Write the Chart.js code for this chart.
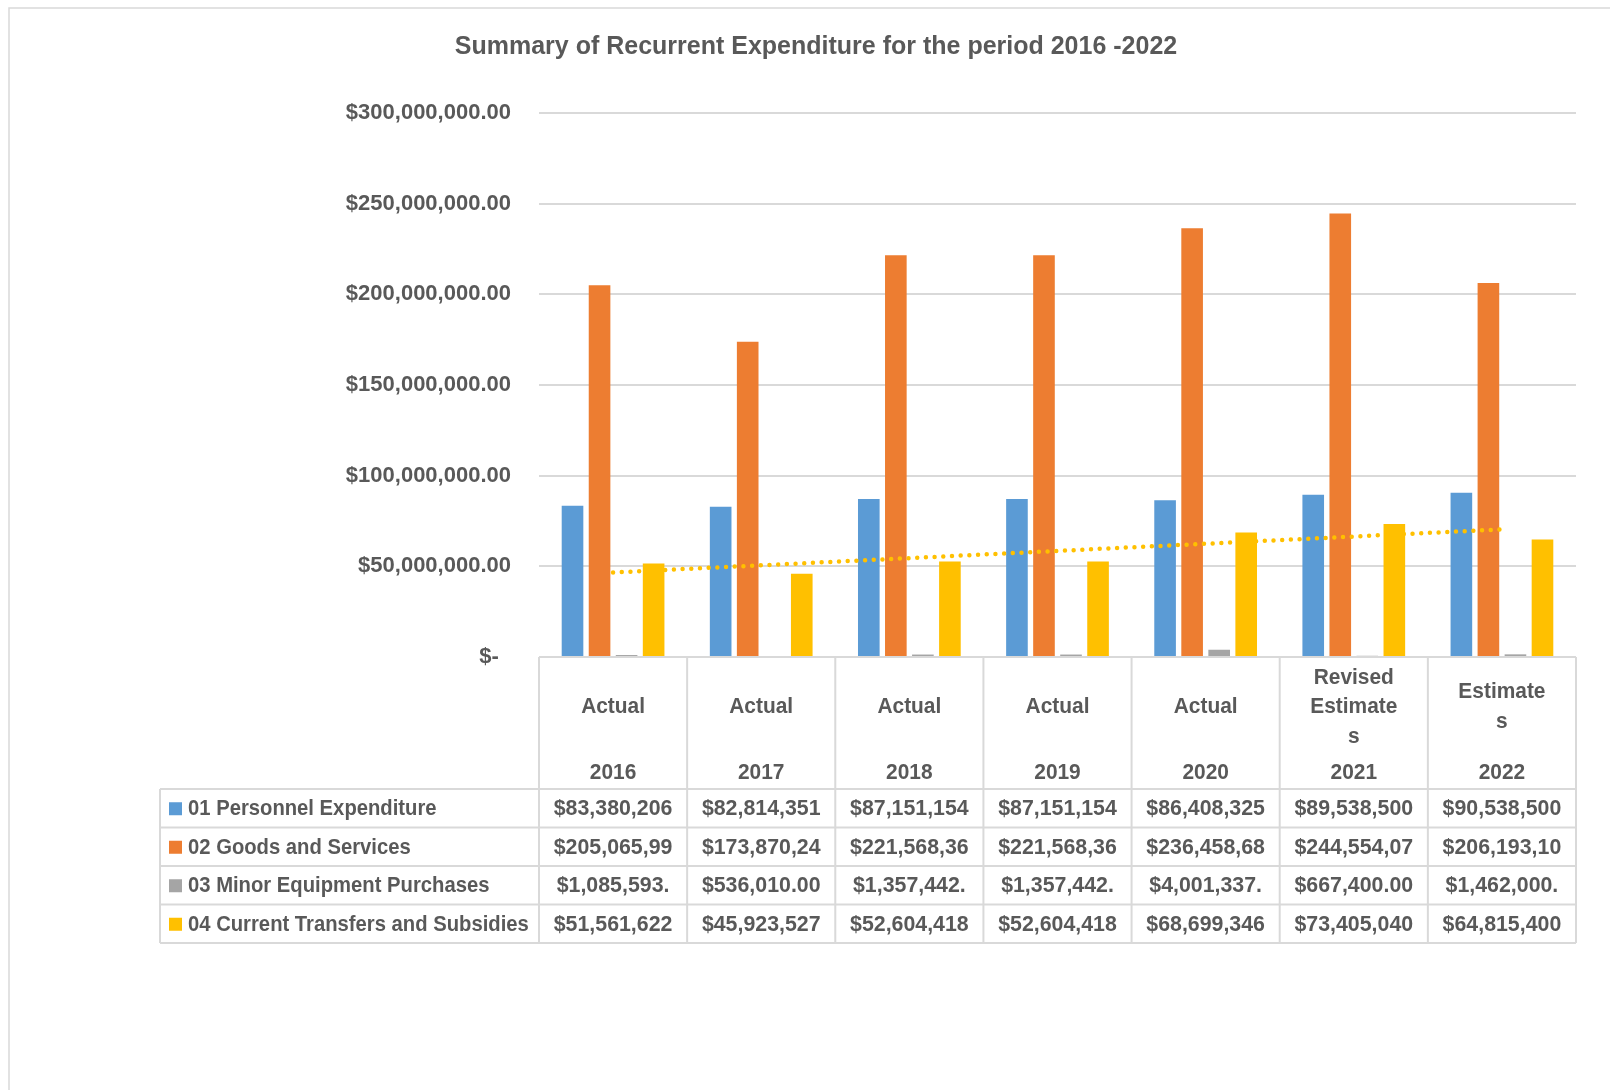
<!DOCTYPE html>
<html>
<head>
<meta charset="utf-8">
<script src="https://cdn.jsdelivr.net/npm/chart.js@4.4.1/dist/chart.umd.min.js"></script>
<style>
  html, body { margin: 0; padding: 0; background: #fff; }
</style>
</head>
<body>
<canvas id="chart" width="1610" height="1090"></canvas>
<script>
const chartTitle = "Summary of Recurrent Expenditure for the period 2016 -2022";
const years = ["2016", "2017", "2018", "2019", "2020", "2021", "2022"];
const stages = [["Actual"], ["Actual"], ["Actual"], ["Actual"], ["Actual"], ["Revised", "Estimate", "s"], ["Estimate", "s"]];
const seriesNames = ["01 Personnel Expenditure", "02 Goods and Services", "03 Minor Equipment Purchases", "04 Current Transfers and Subsidies"];

const personnel = [83380206, 82814351, 87151154, 87151154, 86408325, 89538500, 90538500];
const goodsServices = [205065990, 173870240, 221568360, 221568360, 236458680, 244554070, 206193100];
const minorEquipment = [1085593, 536010, 1357442, 1357442, 4001337, 667400, 1462000];
const transfers = [51561622, 45923527, 52604418, 52604418, 68699346, 73405040, 64815400];
// linear trendline on transfers, ends
const transfersTrend = [46600000, null, null, null, null, null, 70400000];

const yMin = 0, yMax = 300000000, yStep = 50000000;

const FONT = "'Liberation Sans', Arial, sans-serif";
const TXT = "#595959";
const LINE = "#D9D9D9";

Chart.defaults.font.family = FONT;
Chart.defaults.color = TXT;

function money(v) {
  return "$" + v.toLocaleString("en-US", { minimumFractionDigits: 2, maximumFractionDigits: 2 });
}

// text a bit condensed, closer to the narrow excel font
function squeezeText(ctx, text, x, y, sx) {
  ctx.save();
  ctx.translate(x, y);
  ctx.scale(sx, 1);
  ctx.fillText(text, 0, 0);
  ctx.restore();
}

// draws the frame, title and the excel style data table under the plot
const tablePlugin = {
  id: "dataTable",
  beforeDraw(chart) {
    const ctx = chart.ctx;
    ctx.save();
    ctx.strokeStyle = LINE;
    ctx.lineWidth = 1.5;
    ctx.strokeRect(9, 8, 1700, 1200);
    ctx.restore();
  },
  afterDraw(chart) {
    const ctx = chart.ctx;
    const x = chart.scales.x;
    const area = chart.chartArea;
    const colW = x.getPixelForValue(1) - x.getPixelForValue(0);
    const top = area.bottom;
    const headBottom = top + 132;
    const rowH = 38.5;
    const tableLeft = 160;
    const tableBottom = headBottom + rowH * seriesNames.length;

    ctx.save();
    // title
    ctx.fillStyle = TXT;
    ctx.font = "bold 25px " + FONT;
    ctx.textAlign = "center";
    ctx.textBaseline = "middle";
    ctx.fillText(chartTitle, 816, 47);

    // grid lines
    ctx.strokeStyle = LINE;
    ctx.lineWidth = 2;
    ctx.beginPath();
    for (let i = 0; i <= years.length; i++) {
      const lx = x.getPixelForValue(0) - colW / 2 + i * colW;
      ctx.moveTo(lx, top);
      ctx.lineTo(lx, tableBottom);
    }
    ctx.moveTo(tableLeft, headBottom);
    ctx.lineTo(tableLeft, tableBottom);
    for (let r = 0; r <= seriesNames.length; r++) {
      const ly = headBottom + r * rowH;
      ctx.moveTo(tableLeft, ly);
      ctx.lineTo(area.right, ly);
    }
    ctx.stroke();

    // header
    ctx.font = "bold 22px " + FONT;
    ctx.fillStyle = TXT;
    years.forEach((yr, i) => {
      const cx = x.getPixelForValue(i);
      const lines = stages[i];
      const lh = 29.5;
      const y0 = top + 50 - (lines.length - 1) * lh / 2;
      lines.forEach((t, k) => squeezeText(ctx, t, cx, y0 + k * lh, 0.95));
      squeezeText(ctx, yr, cx, top + 116, 0.95);
    });

    // rows
    chart.data.datasets.slice(0, 4).forEach((ds, r) => {
      const cy = headBottom + r * rowH + rowH / 2 + 1;
      ctx.fillStyle = ds.backgroundColor;
      ctx.fillRect(169, cy - 7, 13, 13);
      ctx.fillStyle = TXT;
      ctx.textAlign = "left";
      squeezeText(ctx, seriesNames[r], 188, cy, 0.92);
      ctx.textAlign = "center";
      ds.data.forEach((v, i) => {
        // cells clip at the column width like in excel
        squeezeText(ctx, money(v).slice(0, 11), x.getPixelForValue(i), cy, 0.97);
      });
    });
    ctx.restore();
  }
};

new Chart(document.getElementById("chart"), {
  data: {
    labels: years,
    datasets: [
      { type: "bar", label: seriesNames[0], data: personnel, backgroundColor: "#5B9BD5", order: 2 },
      { type: "bar", label: seriesNames[1], data: goodsServices, backgroundColor: "#ED7D31", order: 2 },
      { type: "bar", label: seriesNames[2], data: minorEquipment, backgroundColor: "#A5A5A5", order: 2 },
      { type: "bar", label: seriesNames[3], data: transfers, backgroundColor: "#FFC000", order: 2 },
      {
        type: "line", label: "Linear (04 Current Transfers and Subsidies)", data: transfersTrend,
        borderColor: "#FFC000", borderWidth: 4.5, borderDash: [0, 8.7], borderCapStyle: "round",
        pointRadius: 0, spanGaps: true, fill: false, order: 1
      }
    ]
  },
  options: {
    responsive: false,
    animation: false,
    devicePixelRatio: 1,
    layout: { padding: { top: 113, left: 10, right: 34, bottom: 433 } },
    datasets: { bar: { categoryPercentage: 0.73, barPercentage: 0.8 } },
    plugins: {
      legend: { display: false },
      tooltip: { enabled: false },
      title: { display: false }
    },
    scales: {
      x: { display: false },
      y: {
        min: yMin,
        max: yMax,
        afterFit(scale) { scale.width = 529; },
        border: { display: false },
        grid: { color: LINE, lineWidth: 2, drawTicks: false },
        ticks: {
          stepSize: yStep,
          padding: 28,
          color: TXT,
          font: { size: 22, weight: "bold" },
          callback: v => v === 0 ? "$-  " : money(v)
        }
      }
    }
  },
  plugins: [tablePlugin]
});
</script>
</body>
</html>
